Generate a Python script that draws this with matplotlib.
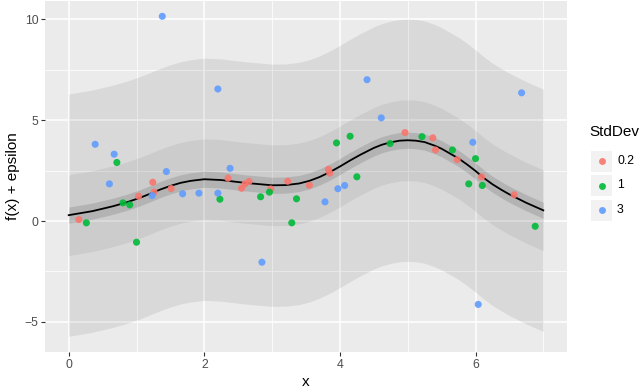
import numpy as np
import matplotlib
matplotlib.use("Agg")
import matplotlib.pyplot as plt
from matplotlib.patches import Rectangle

plt.rcParams['font.family'] = ['Liberation Sans', 'DejaVu Sans']

# curve f(x)
curve_x = [0.0, 0.35, 0.65, 0.85, 1.05, 1.2, 1.35, 1.5, 1.65, 1.8, 2.0, 2.25, 2.6, 3.0,
           3.2, 3.4, 3.55, 3.7, 3.85, 4.0, 4.15, 4.3, 4.5, 4.62, 4.75, 4.88, 5.0,
           5.12, 5.25, 5.4, 5.5, 5.62, 5.75, 5.88, 6.0, 6.12, 6.25, 6.38, 6.5,
           6.75, 7.0]
curve_y = [0.29, 0.49, 0.73, 0.92, 1.15, 1.35, 1.56, 1.74, 1.89, 1.99, 2.07, 2.03, 1.89, 1.77,
           1.78, 1.86, 1.99, 2.18, 2.42, 2.70, 3.0, 3.28, 3.62, 3.78, 3.90, 3.98, 4.0,
           3.98, 3.91, 3.73, 3.58, 3.35, 3.1, 2.79, 2.48, 2.14, 1.82, 1.55, 1.32,
           0.90, 0.53]

sds = ['0.2', '1', '3']
colors = ['#F8766D', '#00BA38', '#619CFF']

red_x = [0.15, 1.03, 1.26, 1.24, 1.51, 2.35, 2.55, 2.60, 2.66, 2.98,
         3.23, 3.55, 3.83, 3.85, 4.96, 5.37, 5.41, 5.73, 6.09, 6.57]
red_y = [0.07, 1.23, 1.43, 1.92, 1.61, 2.12, 1.62, 1.84, 1.96, 1.59,
         1.97, 1.77, 2.56, 2.37, 4.38, 4.12, 3.52, 3.04, 2.19, 1.30]
green_x = [0.26, 0.71, 0.80, 0.90, 1.00, 2.23, 2.83, 2.96, 3.29, 3.36,
           3.95, 4.15, 4.25, 4.74, 5.21, 5.66, 5.90, 6.00, 6.10, 6.88]
green_y = [-0.09, 2.90, 0.90, 0.80, -1.05, 1.08, 1.20, 1.43, -0.09, 1.10,
           3.87, 4.20, 2.19, 3.84, 4.18, 3.52, 1.84, 3.09, 1.76, -0.26]
blue_x = [0.39, 0.60, 0.67, 1.23, 1.38, 1.44, 1.68, 1.92, 2.20, 2.20,
          2.38, 2.85, 3.78, 3.97, 4.07, 4.40, 4.61, 5.96, 6.04, 6.68]
blue_y = [3.80, 1.84, 3.31, 1.26, 10.14, 2.45, 1.35, 1.38, 6.54, 1.38,
          2.61, -2.04, 0.95, 1.60, 1.76, 7.00, 5.11, 3.90, -4.13, 6.35]

fig = plt.figure(figsize=(6.4, 3.89), dpi=100)
ax = fig.add_axes([0.0703, 0.095, 0.8157, 0.902])
ax.set_facecolor('#EBEBEB')

cx = np.array(curve_x)
cy = np.array(curve_y)
ax.fill_between(cx, cy - 6, cy + 6, color='black', alpha=0.075, lw=0, zorder=2)
ax.fill_between(cx, cy - 2, cy + 2, color='black', alpha=0.06, lw=0, zorder=2)
ax.fill_between(cx, cy - 0.4, cy + 0.4, color='black', alpha=0.12, lw=0, zorder=2)
ax.plot(cx, cy, color='black', lw=1.3, zorder=3)

for xs, ys, c in zip([red_x, green_x, blue_x], [red_y, green_y, blue_y], colors):
    ax.scatter(xs, ys, s=26, color=c, edgecolors='none', alpha=0.9, zorder=4)

ax.set_xlim(-0.35, 7.35)
ax.set_ylim(-6.49, 10.89)
ax.set_xticks([0, 2, 4, 6])
ax.set_yticks([-5, 0, 5, 10])
ax.set_yticklabels(['\u22125', '0', '5', '10'])
ax.set_xticks([1, 3, 5, 7], minor=True)
ax.set_yticks([-2.5, 2.5, 7.5], minor=True)
ax.grid(True, which='major', color='white', lw=1.1, zorder=1)
ax.grid(True, which='minor', color='white', lw=0.55, zorder=1)
ax.set_axisbelow(True)
for sp in ax.spines.values():
    sp.set_visible(False)
ax.tick_params(which='major', length=2.75, width=0.8, color='#333333',
               labelcolor='#4D4D4D', labelsize=8.8, pad=2)
ax.tick_params(which='minor', length=0)
ax.set_xlabel('x', fontsize=11, labelpad=3)
ax.set_ylabel('f(x) + epsilon', fontsize=11, labelpad=3)

# legend, drawn by hand
fig.text(589 / 640, 1 - 132 / 389, 'StdDev', fontsize=11, va='center', ha='left')
for i, (lab, c) in enumerate(zip(sds, colors)):
    yc = 161 + i * 24.5
    fig.patches.append(Rectangle((591 / 640, 1 - (yc + 10.5) / 389), 21 / 640, 21 / 389,
                                 transform=fig.transFigure, facecolor='#F2F2F2',
                                 edgecolor='none'))
    fig.lines.append(plt.Line2D([601.5 / 640], [1 - yc / 389], transform=fig.transFigure,
                                marker='o', ms=5, color=c, alpha=0.9, ls='none',
                                markeredgewidth=0))
    fig.text(617 / 640, 1 - yc / 389, lab, fontsize=8.8, va='center', ha='left')

fig.savefig('out.png', dpi=100)
